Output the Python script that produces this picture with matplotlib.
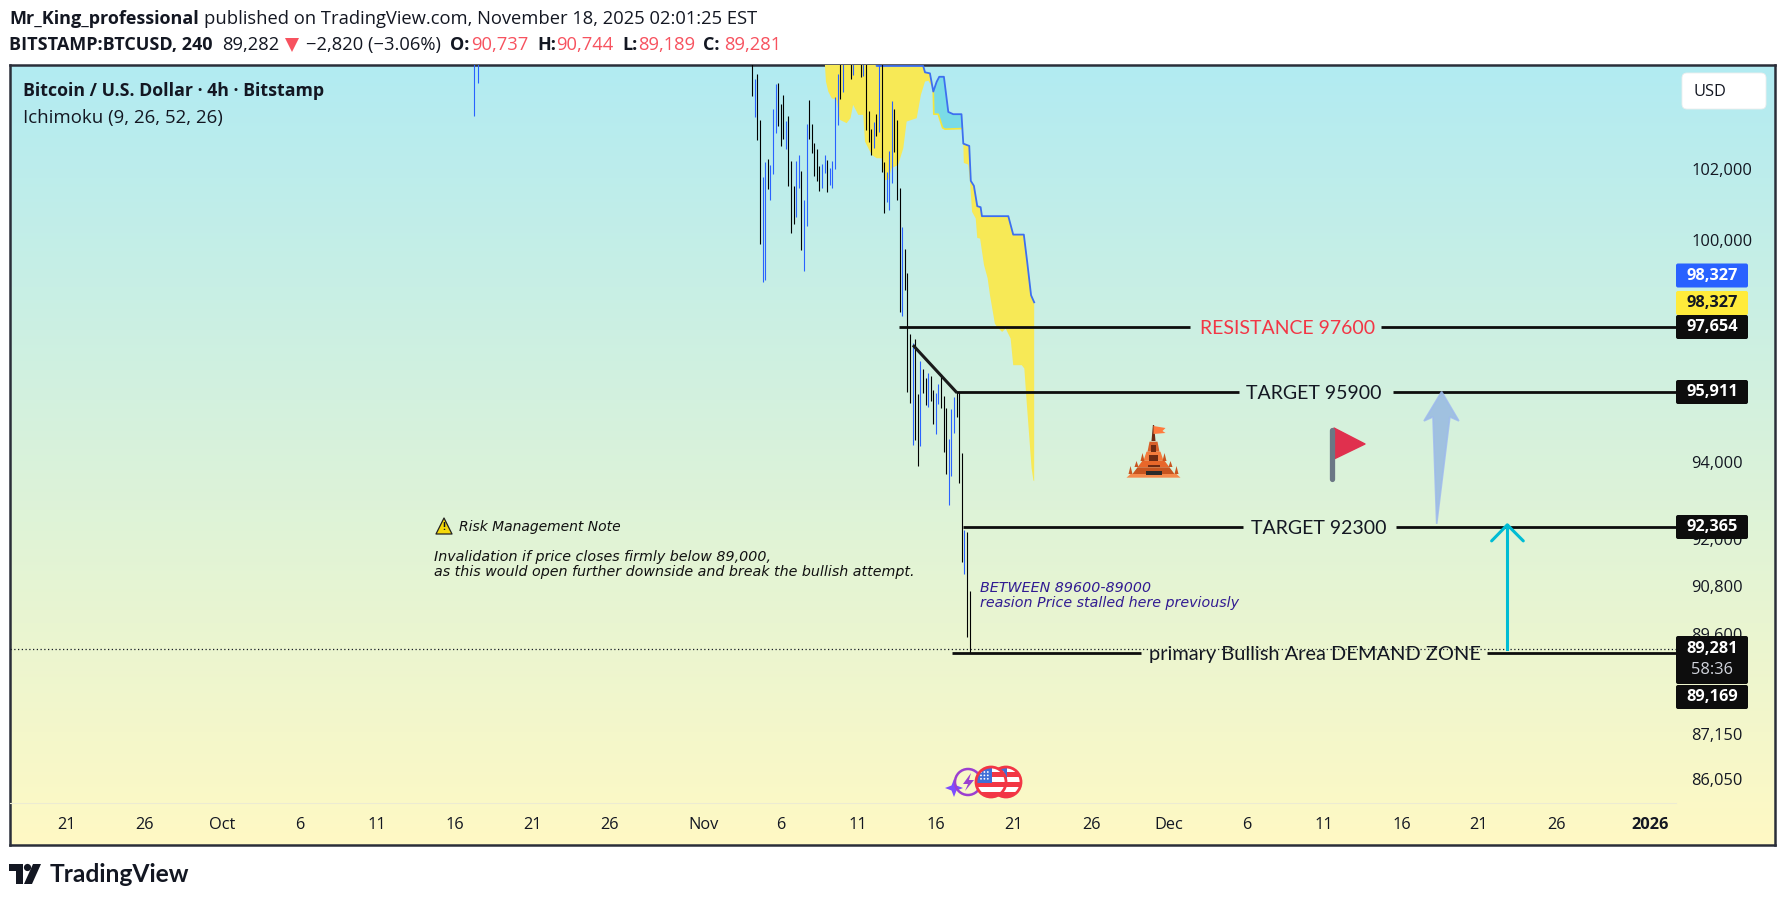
from datetime import datetime

import matplotlib
matplotlib.use("Agg")
import matplotlib.dates as mdates
import matplotlib.pyplot as plt
import numpy as np
from matplotlib.patches import Circle, FancyBboxPatch, Polygon, Rectangle
from matplotlib.ticker import NullLocator
from matplotlib.transforms import ScaledTranslation

plt.rcParams["font.family"] = ["Open Sans", "DejaVu Sans"]

W, H = 1785, 901

# ---- bars: 4h from Nov 4 04:00, high/low
BAR_START_DAY = 34.1667  # days after Oct 1
bar_high = [105300, 104641, 104787, 103452, 101821, 102247, 102332, 102162, 103769, 104495,
            104524, 103913, 104174, 103423, 103567, 102276, 101568, 102276, 102446, 101992,
            101170, 103337, 104028, 103337, 102790, 102617, 102134, 102190, 102446, 102304,
            102077, 102276, 104116, 104787, 105300, 105250, 105700, 105800, 105400, 105300,
            105900, 105700, 105300, 105250, 105200, 103712, 103193, 103395, 103625, 105100,
            105200, 102247, 101963, 102560, 104000, 103769, 103452, 101506, 100414, 99798,
            99135, 97466, 97221, 97330, 95850, 96736, 96522, 96280, 96414, 96334,
            95957, 95877, 96119, 96388, 95796, 95477, 94657, 95450, 95769, 95903,
            95903, 94288, 92288, 92236, 90744]
bar_low = [104154, 103547, 102885, 99946, 98895, 98942, 101480, 101170, 101906, 103078,
           103279, 102703, 102905, 102617, 101568, 100246, 100498, 100694, 101506, 99770,
           99190, 100442, 102905, 102503, 101850, 101708, 101423, 101506, 101935, 101395,
           101597, 101506, 102049, 103308, 104057, 104262, 105200, 105300, 104641, 104758,
           105400, 105200, 104700, 104729, 103164, 102815, 102446, 102645, 102991, 103107,
           101963, 100806, 101114, 100890, 101650, 102531, 101170, 98065, 97956, 98666,
           95911, 95610, 94498, 94631, 93948, 94472, 95877, 95556, 95503, 95662,
           95055, 94790, 95583, 95477, 94314, 93740, 92933, 93687, 94816, 95238,
           93505, 91470, 91165, 89579, 89189]
bar_color = list("kbkkbbkbbb" "kkkbkkkbbk" "bbkkkkkbbk" "bbbbkbkkkb" "kkkbkkkbkb"
                 "kkbbbkkkbk" "kkbkkbkkbk" "kbbkkkbbbk" "kkbkk")

# two lone bars in mid October poking in from the top
lone_day = [16.25, 16.49]
lone_high = [105300, 105300]
lone_low = [103550, 104530]

# ---- ichimoku, x in 4h bars from the same start
span_b_idx = [28.1, 48.0, 48.1, 66.1, 66.8, 68.7, 70.0, 71.3, 72.3, 74.1, 75.8, 77.7, 80.9, 81.6,
              83.9, 84.5, 85.7, 87.0, 88.3, 88.8, 99.0, 100.9, 105.0, 106.3, 107.8, 109.0]
span_b_val = [105340, 105340, 105015, 105015, 104830, 104800, 104270, 104555, 104700, 104700,
              103680, 103615, 103615, 102769, 102703, 101708, 101568, 100994, 100966, 100714,
              100714, 100198, 100198, 99439, 98520, 98327]

lower1_idx = [28.1, 28.5, 29.4, 30.7, 32.6, 33.9, 36.5, 38.0, 39.0, 41.0, 42.9, 43.6, 46.2, 48.1, 50.0,
              51.3, 52.6, 53.9, 56.4, 58.4, 59.7, 63.6, 65.2, 66.8, 68.1, 69.8, 70.0]
lower1_val = [105044, 104560, 104270, 104078, 104028, 103452, 103357, 103500, 103884, 103596, 103596,
              102827, 102446, 102352, 102352, 101736, 101736, 102068, 102162, 102637, 103403,
              103500, 104174, 104560, 104583, 104370, 104270]

cyan_low_idx = [70.0, 70.2, 71.9, 73.6, 74.5, 80.9, 81.2]
cyan_low_val = [104270, 103615, 103615, 103222, 103184, 103200, 103200]

lower2_idx = [81.6, 81.8, 83.5, 84.2, 85.0, 86.4, 87.0, 88.1, 89.6, 91.0, 91.9, 93.8, 94.7, 96.6, 98.0,
              99.9, 100.9, 104.2, 105.2, 106.1, 108.0, 108.7, 109.0]
lower2_val = [102769, 102219, 102170, 101680, 100836, 100650, 100106, 100087, 99356, 98990, 98530,
              97745, 97654, 97519, 97610, 97340, 96620, 96620, 96530, 95636, 93890, 93570, 93550]

# ---- drawn levels: (price, start day, gap start, gap end)
level_price = [97654, 95911, 92365, 89169]
level_start = [43.62, 47.29, 47.75, 47.04]
level_gap_a = [62.37, 65.53, 65.79, 59.21]
level_gap_b = [74.68, 75.45, 75.64, 81.51]
level_end = 93.69
level_text = ["RESISTANCE 97600", "TARGET 95900", "TARGET 92300", "primary Bullish Area DEMAND ZONE"]
level_text_day = [68.65, 70.36, 70.64, 70.46]
level_text_size = [14, 14, 14, 14.4]
level_text_color = ["#f23645", "#131722", "#131722", "#131722"]

last_price = 89281
y_ticks = [102000, 100000, 94000, 92000, 90800, 89600, 87150, 86050]

tick_dates = ["2025-09-21", "2025-09-26", "2025-10-01", "2025-10-06", "2025-10-11", "2025-10-16", "2025-10-21",
              "2025-10-26", "2025-11-01", "2025-11-06", "2025-11-11", "2025-11-16", "2025-11-21", "2025-11-26",
              "2025-12-01", "2025-12-06", "2025-12-11", "2025-12-16", "2025-12-21", "2025-12-26", "2026-01-01"]
tick_names = ["21", "26", "Oct", "6", "11", "16", "21", "26", "Nov", "6", "11", "16", "21", "26",
              "Dec", "6", "11", "16", "21", "26", "2026"]

DAY0 = mdates.date2num(datetime(2025, 10, 1))


def day(d):
    return DAY0 + np.asarray(d, dtype=float)


def bar_x(i):
    return day(BAR_START_DAY + np.asarray(i, dtype=float) / 6)


def box(px0, py0, px1, py1):
    return [px0 / W, 1 - py1 / H, (px1 - px0) / W, (py1 - py0) / H]


fig = plt.figure(figsize=(W / 100, H / 100), dpi=100, facecolor="white")

# panel gradient
bg = fig.add_axes(box(10, 65, 1775, 845))
grad = np.linspace(0, 1, 256)[:, None]
c0 = np.array([0xb2, 0xeb, 0xf2]) / 255
c1 = np.array([0xff, 0xf9, 0xc4]) / 255
bg.imshow((c0 + (c1 - c0) * grad[..., None]), aspect="auto", extent=(0, 1, 0, 1))
bg.set_xticks([])
bg.set_yticks([])
for s in bg.spines.values():
    s.set_color("#2a2e39")
    s.set_linewidth(1.8)

# main chart
ax = fig.add_axes(box(10, 65, 1676, 803))
ax.patch.set_alpha(0)
ax.set_yscale("log")
ax.set_xlim(day(-13.66), day(93.69))
ax.set_ylim(85530, 105044)

# cloud
ax.fill(np.r_[bar_x(lower1_idx), bar_x(span_b_idx[:7])[::-1]], np.r_[lower1_val, span_b_val[:7][::-1]],
        color="#f7e956", lw=0, zorder=1)
ax.fill(np.r_[bar_x(cyan_low_idx), bar_x(span_b_idx[6:13])[::-1]], np.r_[cyan_low_val, span_b_val[6:13][::-1]],
        color="#7adbe6", lw=0, zorder=1)
ax.fill(np.r_[bar_x(lower2_idx), bar_x(span_b_idx[13:])[::-1]], np.r_[lower2_val, span_b_val[13:][::-1]],
        color="#f7e956", lw=0, zorder=1)
ax.plot(bar_x(cyan_low_idx), cyan_low_val, color="#f5e63c", lw=1.2, zorder=2)
ax.plot(bar_x(span_b_idx), span_b_val, color="#3d6ff0", lw=1.3, zorder=2)

# bars
colors = ["#000000" if c == "k" else "#2962ff" for c in bar_color]
ax.vlines(bar_x(np.arange(len(bar_high))), bar_low, bar_high, colors=colors, lw=0.8, zorder=3)
ax.vlines(day(lone_day), lone_low, lone_high, colors="#2962ff", lw=0.8, zorder=3)

# last price
ax.axhline(last_price, color="#131722", lw=0.9, ls=(0, (1, 2)), zorder=2)

# levels
for p, a, g0, g1 in zip(level_price, level_start, level_gap_a, level_gap_b):
    ax.plot(day([a, g0]), [p, p], color="#0d0d0d", lw=2.0, solid_capstyle="butt", zorder=4)
    ax.plot(day([g1, level_end]), [p, p], color="#0d0d0d", lw=2.0, solid_capstyle="butt", zorder=4)
for p, d, t, c, fs in zip(level_price, level_text_day, level_text, level_text_color, level_text_size):
    ax.text(day(d), p, t, color=c, family="Lato", fontsize=fs, ha="center", va="center_baseline", zorder=5)
ax.plot(day([44.59, 47.29]), [97130, 95911], color="#1a1a1a", lw=2.2, zorder=4)

# blue arrow
ax.add_patch(Polygon(list(zip(day([78.59, 79.7, 79.12, 78.27, 78.03, 77.45]),
                              [95911, 95132, 95238, 92444, 95238, 95132])),
                     closed=True, facecolor="#93b5e1", edgecolor="#9db9ee", alpha=0.8, lw=1.2, zorder=5))
# teal arrow
ax.plot(day([82.82, 82.82]), [last_price, 92418], color="#00bcd4", lw=2.2, zorder=5)
ax.plot(day([81.81, 82.82, 83.85]), [92006, 92418, 92006], color="#00bcd4", lw=2.2, zorder=5,
        solid_capstyle="round")

# axes dressing
for name in ["top", "left", "right"]:
    ax.spines[name].set_visible(False)
ax.spines["bottom"].set_color("#ecebd2")
ax.spines["bottom"].set_linewidth(0.8)
ax.set_xticks([mdates.datestr2num(d) for d in tick_dates])
ax.set_xticklabels(tick_names)
ax.minorticks_off()
ax.yaxis.tick_right()
ax.set_yticks(y_ticks)
ax.set_yticklabels([f"{v:,}" for v in y_ticks], va="center_baseline")
ax.tick_params(axis="both", which="both", length=0, labelsize=11.8, labelcolor="#131722")
ax.tick_params(axis="x", pad=10)
ax.tick_params(axis="y", pad=11)
ax.yaxis.set_minor_locator(NullLocator())
for lab in ax.get_yticklabels():
    lab.set_transform(lab.get_transform() + ScaledTranslation(0, 2 / 100, fig.dpi_scale_trans))
for lab, name in zip(ax.get_xticklabels(), tick_names):
    if name in ("Oct", "Nov", "Dec"):
        lab.set_fontweight("medium")
    if name == "2026":
        lab.set_fontweight("bold")

# overlay in picture pixels for header, tags and icons
ov = fig.add_axes([0, 0, 1, 1], zorder=10)
ov.set_xlim(0, W)
ov.set_ylim(H, 0)
ov.axis("off")
ov.patch.set_alpha(0)


def txt(x, y, s, size=13.2, weight="normal", color="#131722", **kw):
    kw.setdefault("va", "center")
    return ov.text(x, y, s, fontsize=size, fontweight=weight, color=color, **kw)


# header
txt(9, 19.5, "Mr_King_professional", weight="bold", size=13)
txt(204, 19.5, "published on TradingView.com, November 18, 2025 02:01:25 EST")
txt(9, 45, "BITSTAMP:BTCUSD, 240", weight="bold", size=13)
txt(222, 45, "89,282")
ov.add_patch(Polygon([(285, 38), (299, 38), (292, 52)], color="#f7525f", lw=0))
txt(306, 45, "\u22122,820 (\u22123.06%)")
for x, s in zip([450, 537, 622, 703], ["O:", "H:", "L:", "C:"]):
    txt(x, 45, s, weight="bold", size=13)
for x, s in zip([471, 556, 638, 724], ["90,737", "90,744", "89,189", "89,281"]):
    txt(x, 45, s, color="#f7525f")

# legend
txt(23, 91, "Bitcoin / U.S. Dollar \u00b7 4h \u00b7 Bitstamp", size=12.8, weight="bold")
txt(23, 118, "Ichimoku (9, 26, 52, 26)", size=13.4)

# USD button
ov.add_patch(FancyBboxPatch((1682, 73), 84, 36, boxstyle="round,pad=0,rounding_size=5",
                            facecolor="white", edgecolor="#eeeeee", lw=0.6))
txt(1710, 92.5, "USD", size=11.8, ha="center")

# notes
NOTE_FONT = "DejaVu Sans"
ov.add_patch(Polygon([(444, 518), (436, 534), (452, 534)], closed=True, facecolor="#f5d90a",
                     edgecolor="#222222", lw=0.9, joinstyle="round"))
txt(444, 527.5, "!", size=7.5, weight="bold", ha="center")
txt(459, 527, "Risk Management Note", size=10, style="italic", family=NOTE_FONT, color="#111111")
txt(434, 557, "Invalidation if price closes firmly below 89,000,", size=10.3, style="italic", family=NOTE_FONT,
    color="#111111")
txt(434, 572, "as this would open further downside and break the bullish attempt.", size=10.3, style="italic",
    family=NOTE_FONT, color="#111111")
txt(980, 588, "BETWEEN 89600-89000", size=10.3, style="italic", family=NOTE_FONT, color="#311b92")
txt(980, 603.5, "reasion Price stalled here previously", size=10.3, style="italic", family=NOTE_FONT,
    color="#311b92")


# price tags
def tag(y, s, fc="#0d0d0d", tc="white", h=24):
    ov.add_patch(FancyBboxPatch((1677, y - h / 2 + 1), 70, h - 2, boxstyle="round,pad=1,rounding_size=2",
                                facecolor=fc, edgecolor="none"))
    txt(1712, y, s, size=11.8, weight="bold", color=tc, ha="center")


tag(275.5, "98,327", fc="#2962ff")
tag(303, "98,327", fc="#ffeb3b", tc="#131722")
tag(327, "97,654")
tag(392, "95,911")
tag(527, "92,365")
ov.add_patch(FancyBboxPatch((1677, 637), 70, 46, boxstyle="round,pad=1,rounding_size=2",
                            facecolor="#0d0d0d", edgecolor="none"))
txt(1712, 649, "89,281", size=11.8, weight="bold", color="white", ha="center")
txt(1712, 670, "58:36", size=11.8, color="#d1d4dc", ha="center")
tag(697, "89,169")

# temple
cx = 1153.5
layers = [(335, 365, 4, 6, "#d9602a"), (365, 392, 7, 10, "#f47b3c"), (392, 412, 11, 16, "#e8672a"),
          (412, 432, 16, 21, "#c8551f"), (432, 443, 23, 27, "#f58a4b")]
for zt, zb, hw0, hw1, col in layers:
    yt, yb = 330 + zt / 3, 330 + zb / 3
    ov.add_patch(Polygon([(cx - hw0, yt), (cx + hw0, yt), (cx + hw1, yb), (cx - hw1, yb)], color=col, lw=0))
ov.add_patch(Polygon([(cx - 0.6, 425), (cx + 0.6, 425), (cx + 2, 441), (cx - 2, 441)], color="#6e2a12", lw=0))
ov.add_patch(Polygon([(cx, 426), (cx + 12, 428), (cx + 9, 431), (cx + 12, 433), (cx, 434)], color="#ff7a3d", lw=0))
ov.add_patch(Rectangle((cx - 2.5, 445), 5, 7, color="#6e2a12", lw=0))
ov.add_patch(Rectangle((cx - 4.5, 455), 9, 6, color="#6e2a12", lw=0))
ov.add_patch(Rectangle((cx - 6, 465), 12, 2, color="#6e2a12", lw=0))
ov.add_patch(Rectangle((cx - 8, 471), 16, 4, color="#2b2b2b", lw=0))
for dx, ytip, hgt in [(11, 453, 8), (17, 461, 6), (23, 466, 8)]:
    for sign in (-1, 1):
        ov.add_patch(Polygon([(cx + sign * dx, ytip), (cx + sign * (dx - 2), ytip + hgt),
                              (cx + sign * (dx + 2), ytip + hgt)], color="#c8551f", lw=0))

# flag
ov.plot([1331.5, 1331.5], [430, 479], color="#6b7785", lw=3.8, solid_capstyle="round")
ov.add_patch(Polygon([(1334, 428), (1365, 444), (1334, 459)], closed=True, facecolor="#e0304e",
                     edgecolor="#e0304e", lw=1, joinstyle="round"))

# event icons
star_x, star_y = 954, 788
ov.add_patch(Polygon([(star_x, star_y - 9), (star_x + 2.5, star_y - 2.5), (star_x + 9, star_y),
                      (star_x + 2.5, star_y + 2.5), (star_x, star_y + 9), (star_x - 2.5, star_y + 2.5),
                      (star_x - 9, star_y), (star_x - 2.5, star_y - 2.5)], color="#7c4dff", lw=0))
ov.add_patch(Circle((968, 782), 13, facecolor="none", edgecolor="#9c3fd0", lw=1.8))
ov.add_patch(Polygon([(971, 773), (963, 784), (968, 784), (965, 791), (974, 780), (969, 780)],
                     color="#9c3fd0", lw=0))


def us_flag(x, y, r=15):
    disc = Circle((x, y), r, facecolor="white", edgecolor="none")
    ov.add_patch(disc)
    for k in range(3):
        st = Rectangle((x - r, y - r + 5 + k * 10), 2 * r, 5, color="#f23645", lw=0)
        ov.add_patch(st)
        st.set_clip_path(disc)
    cant = Rectangle((x - r, y - r), r + 1, r + 1, color="#3f6fd8", lw=0)
    ov.add_patch(cant)
    cant.set_clip_path(disc)
    for i in range(3):
        for j in range(3):
            ov.add_patch(Circle((x - r + 5 + 3.4 * i, y - r + 5 + 3.4 * j), 0.9, color="white", lw=0))
    ov.add_patch(Circle((x, y), r, facecolor="none", edgecolor="#f23645", lw=2))


us_flag(1006, 782)
us_flag(991, 782)

# logo
ov.add_patch(Polygon([(9, 864), (23, 864), (23, 884), (16, 884), (16, 871), (9, 871)], color="#131722", lw=0))
ov.add_patch(Circle((27.5, 867.5), 3.6, color="#131722", lw=0))
ov.add_patch(Polygon([(33, 864), (41, 864), (32, 884), (24, 884)], color="#131722", lw=0))
txt(50, 874, "TradingView", size=17.7, weight="bold", family="Lato")

fig.savefig("out.png", dpi=100)
